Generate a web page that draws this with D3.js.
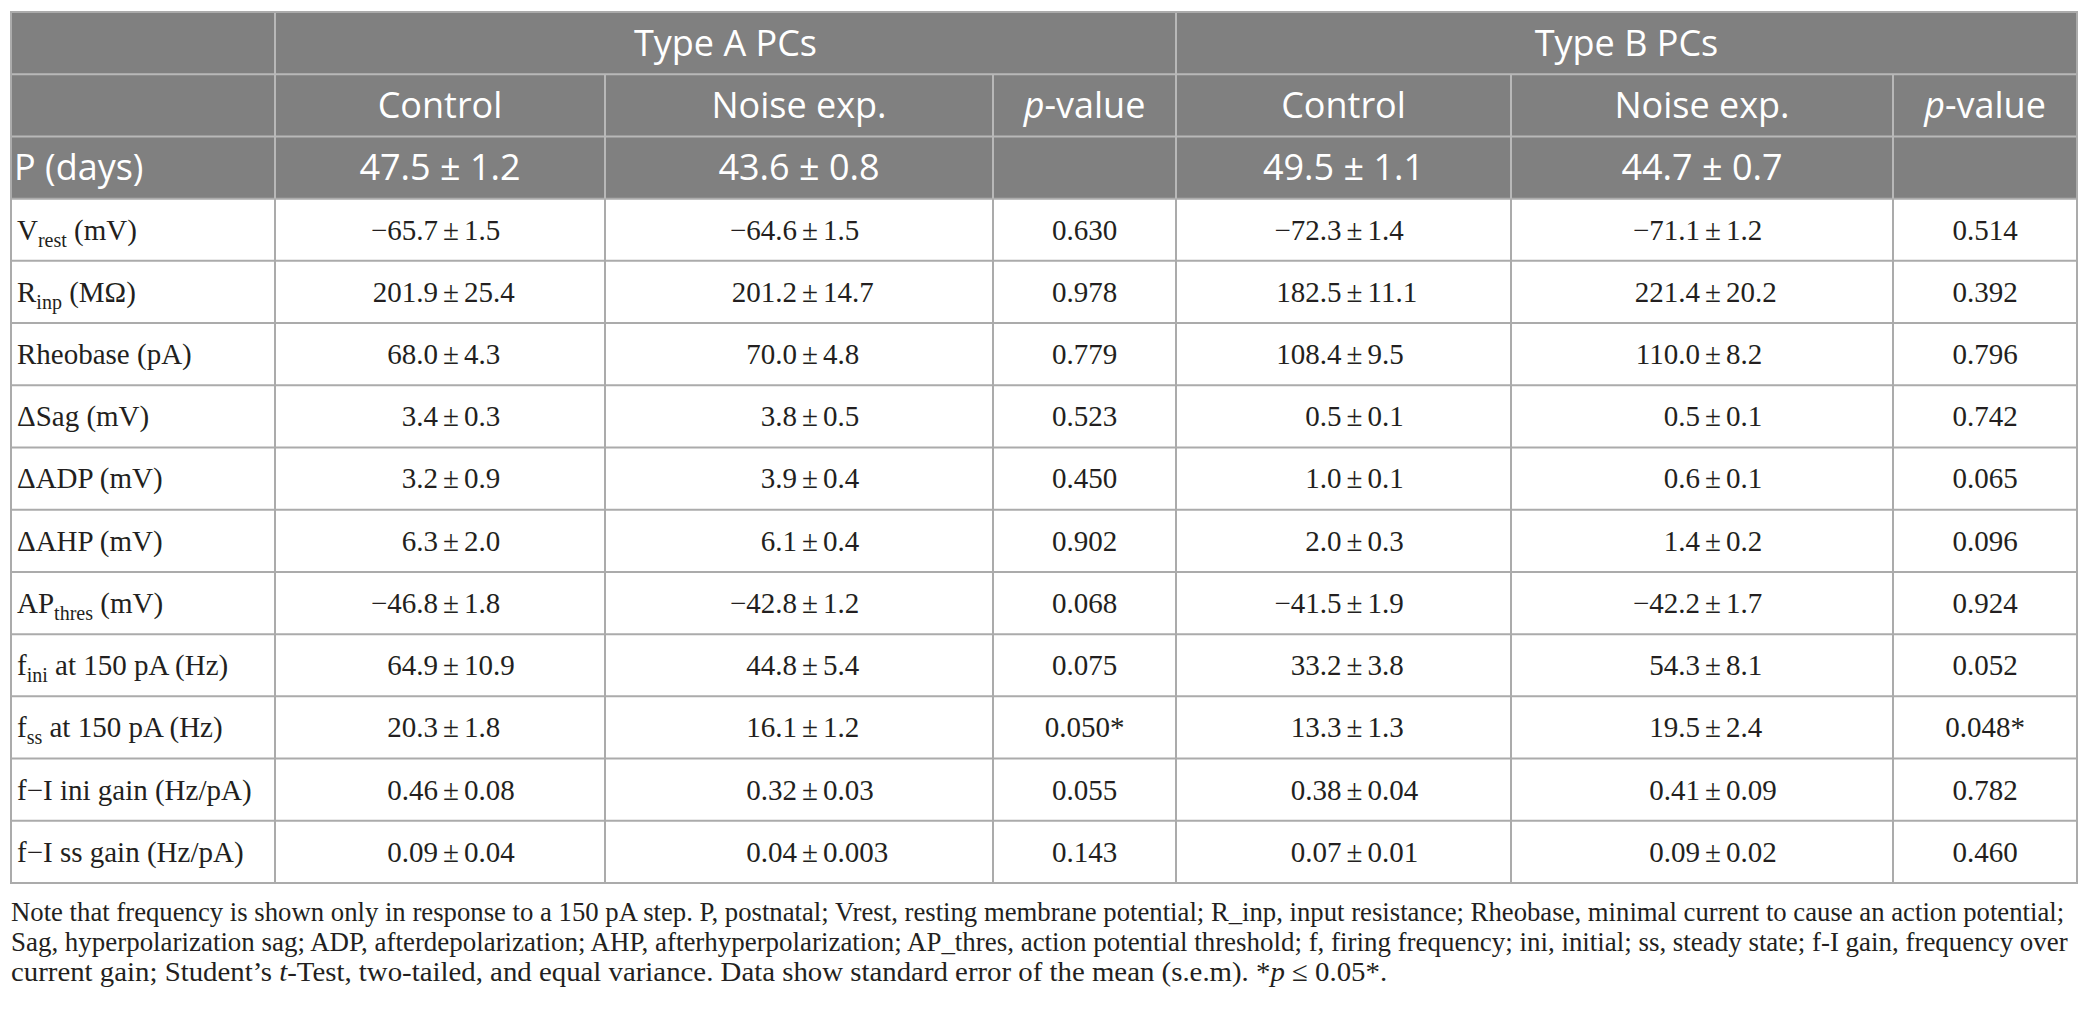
<!DOCTYPE html>
<html lang="en">
<head>
    <meta charset="UTF-8">
    <title>Type A / Type B PCs, control vs noise exposure</title>
    <script src="https://d3js.org/d3.v7.min.js"></script>
    <style>
        body { margin: 0; background: #fff; }
        .head { font-family: "Open Sans", sans-serif; fill: #fff; }
        .cell { font-family: "Liberation Serif", "Times New Roman", serif; fill: #231f20; }
        .note { font-family: "Liberation Serif", "Times New Roman", serif; fill: #231f20; }
    </style>
</head>
<body>
<script>
    // table contents
    const groups = ["Type A PCs", "Type B PCs"];
    const subHeads = ["Control", "Noise exp.", "-value"];
    const ageLabel = "P (days)";
    const ageMean = ["47.5", "43.6", "49.5", "44.7"];
    const ageSem = ["1.2", "0.8", "1.1", "0.7"];

    const paramBase = ["V", "R", "Rheobase (pA)", "ΔSag (mV)", "ΔADP (mV)", "ΔAHP (mV)", "AP", "f", "f",
        "f−I ini gain (Hz/pA)", "f−I ss gain (Hz/pA)"];
    const paramSub = ["rest", "inp", "", "", "", "", "thres", "ini", "ss", "", ""];
    const paramTail = [" (mV)", " (MΩ)", "", "", "", "", " (mV)", " at 150 pA (Hz)", " at 150 pA (Hz)", "", ""];

    const aCtrlMean = ["−65.7", "201.9", "68.0", "3.4", "3.2", "6.3", "−46.8", "64.9", "20.3", "0.46", "0.09"];
    const aCtrlSem = ["1.5", "25.4", "4.3", "0.3", "0.9", "2.0", "1.8", "10.9", "1.8", "0.08", "0.04"];
    const aNoiseMean = ["−64.6", "201.2", "70.0", "3.8", "3.9", "6.1", "−42.8", "44.8", "16.1", "0.32", "0.04"];
    const aNoiseSem = ["1.5", "14.7", "4.8", "0.5", "0.4", "0.4", "1.2", "5.4", "1.2", "0.03", "0.003"];
    const aP = ["0.630", "0.978", "0.779", "0.523", "0.450", "0.902", "0.068", "0.075", "0.050*", "0.055", "0.143"];
    const bCtrlMean = ["−72.3", "182.5", "108.4", "0.5", "1.0", "2.0", "−41.5", "33.2", "13.3", "0.38", "0.07"];
    const bCtrlSem = ["1.4", "11.1", "9.5", "0.1", "0.1", "0.3", "1.9", "3.8", "1.3", "0.04", "0.01"];
    const bNoiseMean = ["−71.1", "221.4", "110.0", "0.5", "0.6", "1.4", "−42.2", "54.3", "19.5", "0.41", "0.09"];
    const bNoiseSem = ["1.2", "20.2", "8.2", "0.1", "0.1", "0.2", "1.7", "8.1", "2.4", "0.09", "0.02"];
    const bP = ["0.514", "0.392", "0.796", "0.742", "0.065", "0.096", "0.924", "0.052", "0.048*", "0.782", "0.460"];

    const noteLines = [
        [["Note that frequency is shown only in response to a 150 pA step. P, postnatal; Vrest, resting membrane potential; R_inp, input resistance; Rheobase, minimal current to cause an action potential;", false]],
        [["Sag, hyperpolarization sag; ADP, afterdepolarization; AHP, afterhyperpolarization; AP_thres, action potential threshold; f, firing frequency; ini, initial; ss, steady state; f-I gain, frequency over", false]],
        [["current gain; Student’s ", false], ["t", true], ["-Test, two-tailed, and equal variance. Data show standard error of the mean (s.e.m). *", false], ["p", true], [" ≤ 0.05*.", false]]
    ];

    // layout
    const W = 2089, H = 1018;
    const colEdges = [11, 275, 605, 993, 1176, 1511, 1893, 2077];
    const tableTop = 12, tableBottom = 883;
    const headFill = "#808080";
    const headLine = "#b8b8b8";
    const bodyLine = "#ababab";

    const nRows = 3 + paramBase.length;
    const x = d3.scaleLinear().domain(d3.range(colEdges.length)).range(colEdges);
    const y = d3.scaleBand().domain(d3.range(nRows)).range([tableTop, tableBottom]);
    const mid = i => (x(i) + x(i + 1)) / 2;

    const svg = d3.select("body").append("svg")
        .attr("width", W).attr("height", H);

    // header background (3 rows)
    svg.append("rect")
        .attr("x", x(0)).attr("y", y(0))
        .attr("width", x(7) - x(0)).attr("height", y(3) - y(0))
        .attr("fill", headFill);

    // horizontal rules
    svg.selectAll(".hline")
        .data(d3.range(1, nRows))
        .join("line")
        .attr("x1", x(0)).attr("x2", x(7))
        .attr("y1", d => y(d)).attr("y2", d => y(d))
        .attr("stroke", d => d < 3 ? headLine : bodyLine)
        .attr("stroke-width", 2);

    // vertical rules: full height at group edges, from row 1 inside groups
    const vlines = [
        {c: 1, from: 0}, {c: 4, from: 0},
        {c: 2, from: 1}, {c: 3, from: 1}, {c: 5, from: 1}, {c: 6, from: 1}
    ];
    vlines.forEach(v => {
        svg.append("line")
            .attr("x1", x(v.c)).attr("x2", x(v.c))
            .attr("y1", y(v.from)).attr("y2", y(3))
            .attr("stroke", headLine).attr("stroke-width", 2);
        svg.append("line")
            .attr("x1", x(v.c)).attr("x2", x(v.c))
            .attr("y1", y(3)).attr("y2", tableBottom)
            .attr("stroke", bodyLine).attr("stroke-width", 2);
    });

    // outer border
    svg.append("rect")
        .attr("x", x(0)).attr("y", tableTop)
        .attr("width", x(7) - x(0)).attr("height", tableBottom - tableTop)
        .attr("fill", "none").attr("stroke", bodyLine).attr("stroke-width", 2);

    const cy = r => y(r) + y.bandwidth() / 2;

    // group titles
    groups.forEach((g, i) => {
        svg.append("text").attr("class", "head")
            .attr("x", (x(1 + 3 * i) + x(4 + 3 * i)) / 2).attr("y", cy(0))
            .attr("dy", "0.36em").attr("text-anchor", "middle")
            .attr("font-size", 36).text(g);
    });

    // sub heads
    [1, 2, 3, 4, 5, 6].forEach((c, k) => {
        const j = k % 3;
        const t = svg.append("text").attr("class", "head")
            .attr("x", mid(c)).attr("y", cy(1))
            .attr("dy", "0.36em").attr("text-anchor", "middle")
            .attr("font-size", 36);
        if (j === 2) {
            t.append("tspan").attr("font-style", "italic").text("p");
            t.append("tspan").text(subHeads[j]);
        } else {
            t.text(subHeads[j]);
        }
    });

    // age row
    svg.append("text").attr("class", "head")
        .attr("x", x(0) + 3).attr("y", cy(2)).attr("dy", "0.36em")
        .attr("font-size", 36).text(ageLabel);
    [1, 2, 4, 5].forEach((c, k) => {
        svg.append("text").attr("class", "head")
            .attr("x", mid(c)).attr("y", cy(2)).attr("dy", "0.36em")
            .attr("text-anchor", "middle").attr("font-size", 36)
            .text(ageMean[k] + " ± " + ageSem[k]);
    });

    // body rows
    const fs = 29;
    paramBase.forEach((base, i) => {
        const r = i + 3;
        const t = svg.append("text").attr("class", "cell")
            .attr("x", x(0) + 6).attr("y", cy(r)).attr("dy", "0.34em")
            .attr("font-size", fs);
        t.append("tspan").text(base);
        if (paramSub[i]) {
            t.append("tspan").attr("font-size", 20).attr("dy", 7).text(paramSub[i]);
            t.append("tspan").attr("dy", -7).text(paramTail[i]);
        }
    });

    const meanCols = [
        {c: 1, mean: aCtrlMean, sem: aCtrlSem},
        {c: 2, mean: aNoiseMean, sem: aNoiseSem},
        {c: 4, mean: bCtrlMean, sem: bCtrlSem},
        {c: 5, mean: bNoiseMean, sem: bNoiseSem}
    ];
    meanCols.forEach(col => {
        const px = mid(col.c) + 11; // ± sits a little right of the centre
        const g = svg.append("g");
        g.selectAll(".m")
            .data(col.mean)
            .join("text").attr("class", "cell")
            .attr("x", px - 13).attr("y", (d, i) => cy(i + 3)).attr("dy", "0.34em")
            .attr("text-anchor", "end").attr("font-size", fs)
            .text(d => d);
        g.selectAll(".pm")
            .data(col.sem)
            .join("text").attr("class", "cell")
            .attr("x", px).attr("y", (d, i) => cy(i + 3)).attr("dy", "0.34em")
            .attr("text-anchor", "middle").attr("font-size", fs)
            .text("±");
        g.selectAll(".s")
            .data(col.sem)
            .join("text").attr("class", "cell")
            .attr("x", px + 13).attr("y", (d, i) => cy(i + 3)).attr("dy", "0.34em")
            .attr("font-size", fs)
            .text(d => d);
    });

    [{c: 3, p: aP}, {c: 6, p: bP}].forEach(col => {
        svg.append("g").selectAll("text")
            .data(col.p)
            .join("text").attr("class", "cell")
            .attr("x", mid(col.c)).attr("y", (d, i) => cy(i + 3)).attr("dy", "0.34em")
            .attr("text-anchor", "middle").attr("font-size", fs)
            .text(d => d);
    });

    // footnote: condensed by a horizontal squeeze so each line ends where the reference wraps
    const noteX = 11;
    const noteBase = [921, 951, 981];
    const noteLen = [2054, 2057, 1377];
    noteLines.forEach((parts, i) => {
        const g = svg.append("g");
        const t = g.append("text").attr("class", "note")
            .attr("x", 0).attr("y", 0)
            .attr("font-size", 28);
        parts.forEach(p => {
            t.append("tspan").attr("font-style", p[1] ? "italic" : null).text(p[0]);
        });
        const natural = t.node().getComputedTextLength();
        g.attr("transform", `translate(${noteX},${noteBase[i]}) scale(${noteLen[i] / natural},1)`);
    });
</script>
</body>
</html>
